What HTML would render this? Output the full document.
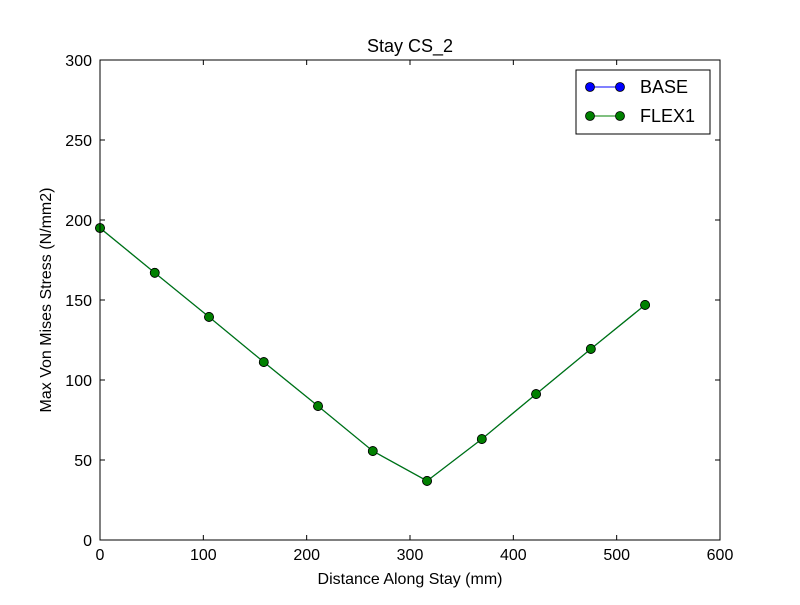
<!DOCTYPE html>
<html><head><meta charset="utf-8"><style>
body{margin:0;background:#fff;}
svg text{font-family:"Liberation Sans","DejaVu Sans",sans-serif;}
</style></head><body>
<svg id="chart" width="800" height="600" xmlns="http://www.w3.org/2000/svg">
<rect width="800" height="600" fill="#fff"/>
<text x="410" y="52" font-size="18" text-anchor="middle">Stay CS_2</text>
<g id="ticks"></g>
<g id="series"></g>
<rect x="100" y="60" width="620" height="480" fill="none" stroke="#000" stroke-width="1"/>
<text x="410" y="584" font-size="16" text-anchor="middle">Distance Along Stay (mm)</text>
<text transform="translate(51,300) rotate(-90)" font-size="16" text-anchor="middle">Max Von Mises Stress (N/mm2)</text>
<g>
<rect x="576" y="70" width="134" height="64" fill="#fff" stroke="#000"/>
<g>
<line x1="590" y1="87" x2="620" y2="87" stroke="#0000ff"/>
<circle cx="590" cy="87" r="4.5" fill="#0000ff" stroke="#000" stroke-width="0.8"/>
<circle cx="620" cy="87" r="4.5" fill="#0000ff" stroke="#000" stroke-width="0.8"/>
<text x="640" y="93" font-size="18">BASE</text>
</g>
<g>
<line x1="590" y1="116" x2="620" y2="116" stroke="#008000"/>
<circle cx="590" cy="116" r="4.5" fill="#008000" stroke="#000" stroke-width="0.8"/>
<circle cx="620" cy="116" r="4.5" fill="#008000" stroke="#000" stroke-width="0.8"/>
<text x="640" y="122" font-size="18">FLEX1</text>
</g>
</g>
</svg>
<script>
const distances=[0,53,105.5,158.5,211,264,316.5,369.5,422,475,527.5];
const baseValues=[195,167,139.4,111.2,83.7,55.6,36.9,63.1,91.2,119.4,146.9];
const flex1Values=[195,167,139.4,111.2,83.7,55.6,36.9,63.1,91.2,119.4,146.9];
const xTicks=[0,100,200,300,400,500,600];
const yTicks=[0,50,100,150,200,250,300];
const NS="http://www.w3.org/2000/svg";
const L=100,R=720,T=60,B=540;
function xs(v){return L+(v-0)/600*(R-L);}
function ys(v){return B-(v-0)/300*(B-T);}
const tg=document.getElementById('ticks');
function mk(tag,attrs,parent){const e=document.createElementNS(NS,tag);for(const k in attrs)e.setAttribute(k,attrs[k]);parent.appendChild(e);return e;}
xTicks.forEach(t=>{
  const x=xs(t);
  const a=mk('line',{x1:x,y1:B,x2:x,y2:B-5,stroke:'#000'},tg);
  
  
  mk('line',{x1:x,y1:T,x2:x,y2:T+5,stroke:'#000'},tg);
  const tx=mk('text',{x:x,y:B+20,'font-size':16,'text-anchor':'middle'},tg);
  tx.textContent=t;
  
  
});
yTicks.forEach(t=>{
  const y=ys(t);
  const a=mk('line',{x1:L,y1:y,x2:L+5,y2:y,stroke:'#000'},tg);
  
  
  mk('line',{x1:R,y1:y,x2:R-5,y2:y,stroke:'#000'},tg);
  const tx=mk('text',{x:L-8,y:y+6,'font-size':16,'text-anchor':'end'},tg);
  tx.textContent=t;
  
  
});
const sg=document.getElementById('series');
function drawSeries(vals,color,name){
  const g=mk('g',{},sg);
  
  
  const pts=vals.map((v,i)=>xs(distances[i])+','+ys(v)).join(' ');
  const pl=mk('polyline',{points:pts,fill:'none',stroke:color,'stroke-width':1.2},g);
  
  
  vals.forEach((v,i)=>{
    const c=mk('circle',{cx:xs(distances[i]),cy:ys(v),r:4.5,fill:color,stroke:'#000','stroke-width':0.8},g);
    
    
  });
}
drawSeries(baseValues,'#0000ff','base');
drawSeries(flex1Values,'#008000','flex1');
</script>
</body></html>
